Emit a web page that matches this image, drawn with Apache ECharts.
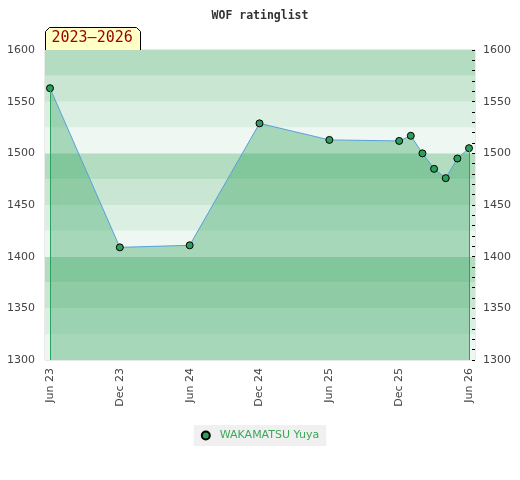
<!DOCTYPE html>
<html>
<head>
<meta charset="utf-8">
<script src="https://cdn.jsdelivr.net/npm/echarts@6/dist/echarts.min.js"></script>
<style>html,body{margin:0;padding:0;background:#fff}#c{width:520px;height:480px}</style>
</head>
<body>
<div id="c"></div>
<script>
// months counted from Jun 2023 (0) to Jun 2026 (36)
const months = [0, 6, 12, 18, 24, 30, 31, 32, 33, 34, 35, 36];
const ratings = [1563, 1409, 1411, 1529, 1513, 1512, 1517, 1500, 1485, 1476, 1495, 1505];
const tickLabels = ['Jun 23', 'Dec 23', 'Jun 24', 'Dec 24', 'Jun 25', 'Dec 25', 'Jun 26'];
const playerName = 'WAKAMATSU Yuya';
const titleText = 'WOF ratinglist';
const periodText = '2023\u20132026';

const chart = echarts.init(document.getElementById('c'), null, {renderer: 'canvas'});
const pts = months.map((m, i) => [m, ratings[i]]);
const first = pts[0], last = pts[pts.length - 1];
const font = 'DejaVu Sans';

chart.setOption({
  animation: false,
  backgroundColor: '#fff',
  title: {
    text: titleText, left: 'center', top: 5,
    textStyle: {fontFamily: 'DejaVu Sans Mono', fontWeight: 'bold', fontSize: 11.5, color: '#333'}
  },
  legend: {
    bottom: 34, left: 'center',
    backgroundColor: '#f0f0f0', padding: [5, 7, 5, 7],
    itemWidth: 8, itemHeight: 8, icon: 'circle',
    textStyle: {fontFamily: font, fontSize: 11, color: '#3aa85a', padding: [0, 0, 0, 5]},
    data: [playerName]
  },
  grid: [
    {left: 45, top: 50, width: 430, height: 310, show: true, borderColor: '#d4d4d4', borderWidth: 1, backgroundColor: 'transparent'},
    {left: 50, top: 50, width: 419, height: 310}
  ],
  xAxis: [
    {gridIndex: 0, type: 'value', min: 0, max: 1, show: false},
    {gridIndex: 1, type: 'value', min: 0, max: 36, interval: 6,
      axisLine: {show: false}, axisTick: {show: false}, splitLine: {show: false},
      axisLabel: {rotate: 90, margin: 8, fontFamily: font, fontSize: 11, color: '#444',
        formatter: v => (v % 6 === 0 ? tickLabels[v / 6] : '')}}
  ],
  yAxis: [
    {gridIndex: 0, type: 'value', min: 1300, max: 1600, interval: 25, position: 'left',
      axisLine: {show: false}, axisTick: {show: false}, axisLabel: {show: false},
      splitLine: {show: false},
      splitArea: {show: true, areaStyle: {color: ['#eef7f1', '#dcefe3', '#c8e6d1', '#b3dcc0']}}},
    {gridIndex: 0, type: 'value', min: 1300, max: 1600, interval: 50, position: 'left',
      axisLine: {show: false}, axisTick: {show: false}, splitLine: {show: false},
      axisLabel: {margin: 10, fontFamily: font, fontSize: 11, color: '#444', formatter: v => String(v)}},
    {gridIndex: 0, type: 'value', min: 1300, max: 1600, interval: 10, position: 'right',
      axisLine: {show: false}, splitLine: {show: false},
      axisTick: {show: true, inside: true, length: 3, lineStyle: {color: '#000'}},
      axisLabel: {margin: 8, fontFamily: font, fontSize: 11, color: '#444',
        formatter: v => (v % 50 === 0 ? String(v) : '')}},
    {gridIndex: 1, type: 'value', min: 1300, max: 1600, show: false}
  ],
  series: [{
    name: playerName, type: 'line', xAxisIndex: 1, yAxisIndex: 3,
    data: pts,
    symbol: 'circle', symbolSize: 7,
    itemStyle: {color: '#2e9e5b', borderColor: '#000', borderWidth: 1},
    lineStyle: {color: '#5aa0dc', width: 1},
    areaStyle: {color: 'rgba(52,165,95,0.55)', origin: 'start'},
    markLine: {
      silent: true, symbol: 'none', label: {show: false},
      lineStyle: {color: '#2ca25f', width: 1, type: 'solid'},
      data: [
        [{coord: [first[0], first[1]]}, {coord: [first[0], 1300]}],
        [{coord: [last[0], last[1]]}, {coord: [last[0], 1300]}]
      ]
    }
  }],
  graphic: [{
    type: 'group', left: 45, top: 27, z: 100,
    children: [
      {type: 'polygon', shape: {points: [[0, 23], [0, 4], [4, 0], [91, 0], [95, 4], [95, 23]]},
        style: {fill: '#ffffc6', stroke: '#000', lineWidth: 1}},
      {type: 'text', left: 6, top: 3,
        style: {text: periodText, font: '15px "DejaVu Sans Mono"', fill: '#990000'}}
    ]
  }]
});
</script>
</body>
</html>
